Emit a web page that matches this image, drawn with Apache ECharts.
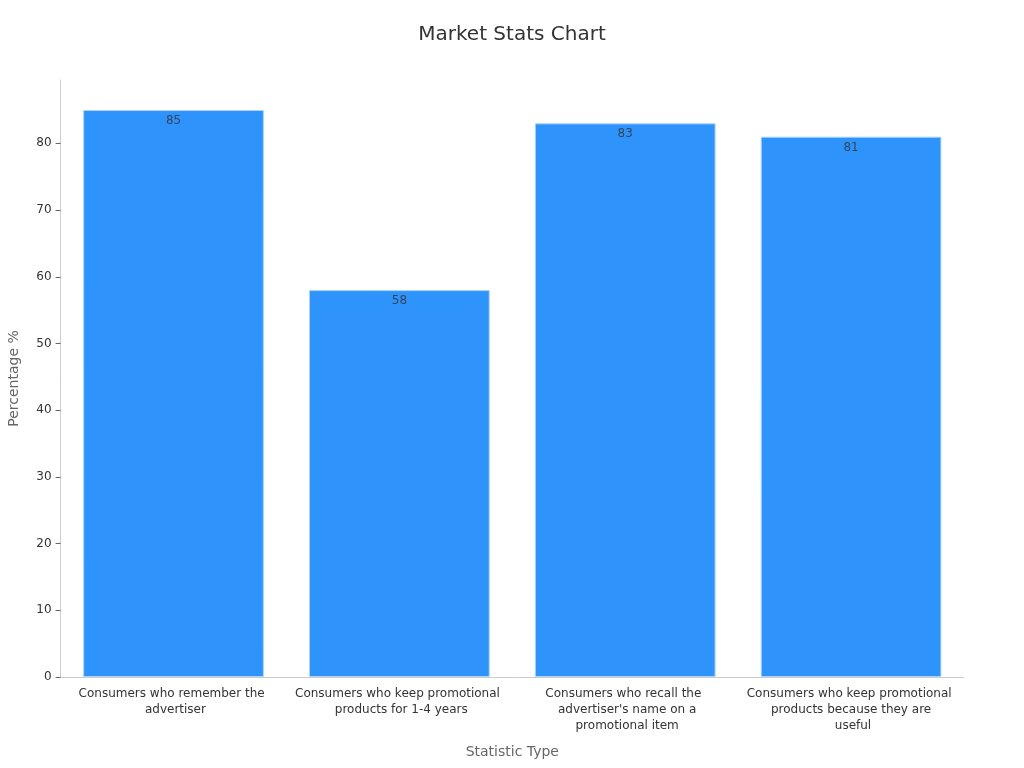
<!DOCTYPE html>
<html>
<head>
<meta charset="utf-8">
<style>html,body{margin:0;padding:0;background:#fff}#chart{width:1024px;height:768px}</style>
<script src="https://cdn.jsdelivr.net/npm/echarts@6/dist/echarts.min.js"></script>
</head>
<body>
<div id="chart"></div>
<script>
// spaces keep the slightly uneven line centring of the original labels
const categories = [
  'Consumers who remember the \n advertiser',
  'Consumers who keep promotional \n products for 1-4 years',
  "Consumers who recall the \n advertiser's name on a\n promotional item",
  'Consumers who keep promotional \nproducts because they are\n useful'
];
const values = [85, 58, 83, 81];
const yTicks = { min: 0, max: 89.5, interval: 10 };

const myChart = echarts.init(document.getElementById('chart'), null, { renderer: 'canvas' });
const font = 'DejaVu Sans';

myChart.setOption({
  animation: false,
  textStyle: { fontFamily: font },
  title: {
    text: 'Market Stats Chart',
    left: 'center',
    top: 20,
    textStyle: { fontSize: 20, fontWeight: 'normal', color: '#333', fontFamily: font }
  },
  grid: { left: 60.6, right: 60, top: 80, bottom: 91, outerBoundsMode: 'none' },
  xAxis: {
    type: 'category',
    data: categories,
    name: 'Statistic Type',
    nameLocation: 'middle',
    nameGap: 68,
    nameTextStyle: { fontSize: 14, color: '#666' },
    axisLine: { lineStyle: { color: '#ccc' } },
    axisTick: { alignWithLabel: true, length: 6, lineStyle: { color: '#666' } },
    axisLabel: { interval: 0, fontSize: 12, color: '#333', lineHeight: 16, margin: 9 }
  },
  yAxis: {
    type: 'value',
    min: yTicks.min,
    max: yTicks.max,
    interval: yTicks.interval,
    name: 'Percentage %',
    nameLocation: 'middle',
    nameGap: 39,
    nameTextStyle: { fontSize: 14, color: '#666' },
    axisLine: { show: true, lineStyle: { color: '#ccc' } },
    axisTick: { show: true, length: 5, lineStyle: { color: '#666' } },
    axisLabel: { fontSize: 12, color: '#333', showMaxLabel: false, margin: 9, padding: [2, 0, 0, 0] },
    splitLine: { show: false }
  },
  series: [{
    type: 'bar',
    data: values,
    barWidth: '80%',
    itemStyle: { color: '#2e93fa', borderColor: '#a9d3fa', borderWidth: 1 },
    label: { show: true, position: 'insideTop', fontSize: 12, color: 'rgba(51,51,51,0.8)', distance: 5 }
  }]
});

window.addEventListener('resize', myChart.resize);
</script>
</body>
</html>
